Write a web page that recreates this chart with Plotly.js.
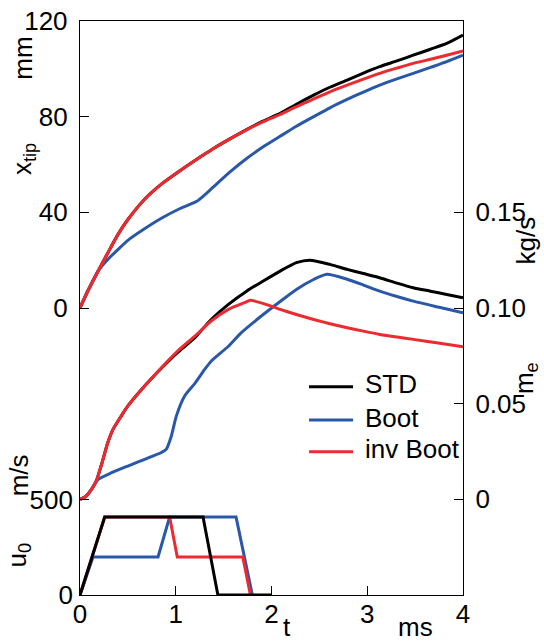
<!DOCTYPE html>
<html>
<head>
<meta charset="utf-8">
<script src="https://cdn.plot.ly/plotly-3.0.1.min.js"></script>
<style>html,body{margin:0;padding:0;background:#fff;}#chart{width:544px;height:641px;}</style>
</head>
<body>
<div id="chart"></div>
<script>
// ---- data (t in ms) ----
const seriesNames = ["STD", "Boot", "inv Boot"];

// tip penetration x_tip (mm)
const tXtip = [0, 0.08, 0.19, 0.29, 0.4, 0.5, 0.67, 0.85, 1.04, 1.22, 1.30, 1.39, 1.57, 1.74, 1.91, 2.09, 2.26, 2.44, 2.61, 2.79, 2.96, 3.13, 3.31, 3.48, 3.66, 3.83, 4.0];
const xtipSTD  = [0, 7.0, 15.5, 23.0, 31.0, 37.0, 45.3, 51.8, 57.3, 62.2, 64.3, 66.6, 70.8, 74.6, 78.1, 81.4, 85.2, 89.0, 92.3, 95.3, 98.2, 100.9, 103.3, 105.7, 108.2, 110.6, 114.1];
const xtipBoot = [0, 7.0, 15.5, 20.3, 24.6, 28.3, 33.0, 37.5, 41.5, 44.6, 47.2, 50.5, 57.0, 62.5, 67.3, 71.8, 76.0, 80.0, 83.7, 87.2, 90.3, 93.2, 95.8, 98.1, 100.6, 103.0, 105.7];
const xtipInv  = [0, 7.0, 15.5, 23.0, 31.0, 37.0, 45.3, 51.8, 57.3, 62.2, 64.3, 66.6, 70.8, 74.5, 77.8, 80.9, 84.2, 87.4, 90.4, 93.2, 95.7, 98.1, 100.3, 102.3, 104.0, 105.7, 107.5];

// mass flow rate m_e (kg/s)
const tMeSTD  = [0, 0.06, 0.12, 0.17, 0.22, 0.29, 0.345, 0.43, 0.5, 0.675, 0.85, 1.02, 1.2, 1.37, 1.55, 1.74, 1.91, 2.09, 2.26, 2.4, 2.61, 2.79, 2.96, 3.13, 3.31, 3.48, 3.66, 3.83, 4.0];
const meSTD   = [0, 0.0015, 0.0052, 0.0096, 0.0174, 0.0296, 0.0366, 0.0435, 0.0488, 0.0592, 0.0685, 0.0768, 0.0845, 0.094, 0.1019, 0.1088, 0.114, 0.1193, 0.1237, 0.125, 0.1228, 0.1202, 0.118, 0.1158, 0.113, 0.1106, 0.1088, 0.1071, 0.1054];
const tMeBoot = [0, 0.06, 0.12, 0.19, 0.33, 0.5, 0.675, 0.85, 0.9, 0.954, 1.006, 1.093, 1.198, 1.302, 1.372, 1.55, 1.685, 1.894, 2.08, 2.26, 2.44, 2.58, 2.79, 2.96, 3.13, 3.31, 3.48, 3.74, 4.0];
const meBoot  = [0, 0.0015, 0.0052, 0.0104, 0.0139, 0.0174, 0.0209, 0.0245, 0.0261, 0.0331, 0.0435, 0.054, 0.0605, 0.0679, 0.0723, 0.080, 0.0871, 0.0958, 0.103, 0.1097, 0.1149, 0.1176, 0.115, 0.112, 0.1088, 0.106, 0.1036, 0.1005, 0.0975];
const tMeInv  = [0, 0.06, 0.12, 0.17, 0.22, 0.29, 0.345, 0.43, 0.5, 0.675, 0.85, 1.02, 1.2, 1.37, 1.55, 1.72, 1.78, 1.91, 2.09, 2.26, 2.44, 2.61, 2.79, 2.96, 3.13, 3.31, 3.48, 3.74, 4.0];
const meInv   = [0, 0.0015, 0.0052, 0.0096, 0.0174, 0.0296, 0.0366, 0.0435, 0.0488, 0.0592, 0.0688, 0.0775, 0.0853, 0.0932, 0.0993, 0.1028, 0.104, 0.1024, 0.0993, 0.0966, 0.094, 0.0918, 0.0897, 0.0879, 0.0862, 0.0848, 0.0836, 0.0817, 0.0798];

// injection velocity u_0 (m/s)
const tU0STD  = [0, 0.258, 1.285, 1.44, 2.0];
const u0STD   = [0, 410, 410, 0, 0];
const tU0Boot = [0, 0.136, 0.815, 0.936, 1.63, 1.80];
const u0Boot  = [0, 200, 200, 410, 410, 0];
const tU0Inv  = [0, 0.258, 0.936, 1.016, 1.70, 1.78];
const u0Inv   = [0, 410, 410, 200, 200, 0];

// tick labels
const xtipTicks = [0, 40, 80, 120];
const meTicks = [0, 0.05, 0.10, 0.15];
const meTickText = ["0", "0.05", "0.10", "0.15"];
const u0Ticks = [0, 500];
const tTicks = [0, 1, 2, 3, 4];

// ---- styles ----
const colors = {STD: "#000000", Boot: "#2a58a8", Inv: "#ec2a2f"};
const legendColors = [colors.STD, colors.Boot, colors.Inv];
const LW = 3;
const FONT = "Liberation Sans, Arial, Helvetica, sans-serif";
const FS = 26;

function tr(x, y, axis, color, name, smooth) {
  return {x: x, y: y, yaxis: axis, type: "scatter", mode: "lines",
    line: {color: color, width: LW, shape: smooth ? "spline" : "linear", smoothing: 0.6},
    name: name, showlegend: false, hoverinfo: "skip"};
}

const data = [
  tr(tXtip, xtipSTD, "y", colors.STD, seriesNames[0], true),
  tr(tXtip, xtipBoot, "y", colors.Boot, seriesNames[1], true),
  tr(tXtip, xtipInv, "y", colors.Inv, seriesNames[2], true),
  tr(tMeSTD, meSTD, "y2", colors.STD, seriesNames[0], true),
  tr(tMeBoot, meBoot, "y2", colors.Boot, seriesNames[1], true),
  tr(tMeInv, meInv, "y2", colors.Inv, seriesNames[2], true),
  tr(tU0Boot, u0Boot, "y3", colors.Boot, seriesNames[1], false),
  tr(tU0Inv, u0Inv, "y3", colors.Inv, seriesNames[2], false),
  tr(tU0STD, u0STD, "y3", colors.STD, seriesNames[0], false)
];

const axCommon = {showgrid: false, zeroline: false, ticks: "inside", ticklen: 9, tickwidth: 1,
  tickcolor: "#000", linecolor: "#000", linewidth: 1.2, tickfont: {family: FONT, size: FS, color: "#000"}};

// legend key (drawn as paper-space decoration)
const legX0 = 0.598, legX1 = 0.713, legTextX = 0.739;
const legY = [0.3629, 0.3049, 0.2497];
const legendShapes = seriesNames.map((n, i) => ({type: "line", xref: "paper", yref: "paper",
  x0: legX0, x1: legX1, y0: legY[i], y1: legY[i], line: {color: legendColors[i], width: 3}}));
const legendTexts = seriesNames.map((n, i) => ({text: n, xref: "paper", yref: "paper",
  x: legTextX, y: legY[i] + 0.004, xanchor: "left", yanchor: "middle", showarrow: false,
  font: {family: FONT, size: FS, color: "#000"}}));

function vlabel(text, x, y) {
  return {text: text, xref: "paper", yref: "paper", x: x, y: y, textangle: -90, showarrow: false,
    xanchor: "center", yanchor: "middle"};
}

const layout = {
  width: 544, height: 641,
  margin: {l: 80, r: 81, t: 21, b: 46, pad: 0},
  paper_bgcolor: "#fff", plot_bgcolor: "#fff",
  font: {family: FONT, size: FS, color: "#000"},
  showlegend: false,
  xaxis: Object.assign({}, axCommon, {range: [0, 4], tickvals: tTicks, showline: true, mirror: true, ticklabelstandoff: -4}),
  yaxis: Object.assign({}, axCommon, {range: [-120, 120], tickvals: xtipTicks, showline: true, ticklabelstandoff: 6}),
  yaxis2: Object.assign({}, axCommon, {range: [-0.05, 0.25], tickvals: meTicks, ticktext: meTickText,
    overlaying: "y", side: "right", anchor: "x", showline: true, ticklabelstandoff: 6}),
  yaxis3: Object.assign({}, axCommon, {range: [0, 3020], tickvals: u0Ticks,
    overlaying: "y", side: "left", anchor: "x", showline: false, ticklabelstandoff: 6}),
  shapes: legendShapes,
  annotations: [
    vlabel("mm", -0.148, 0.935),
    vlabel("x<sub>tip</sub>", -0.148, 0.76),
    vlabel("kg/s", 1.165, 0.618),
    vlabel("m<sub>e</sub>", 1.162, 0.378),
    vlabel("m/s", -0.16, 0.208),
    vlabel("u<sub>0</sub>", -0.16, 0.07),
    {text: "t", xref: "paper", yref: "paper", x: 0.54, y: -0.056, showarrow: false, xanchor: "center", yanchor: "middle"},
    {text: "ms", xref: "paper", yref: "paper", x: 0.875, y: -0.055, showarrow: false, xanchor: "center", yanchor: "middle"}
  ].concat(legendTexts)
};

Plotly.newPlot("chart", data, layout, {staticPlot: true, displayModeBar: false});
</script>
</body>
</html>
